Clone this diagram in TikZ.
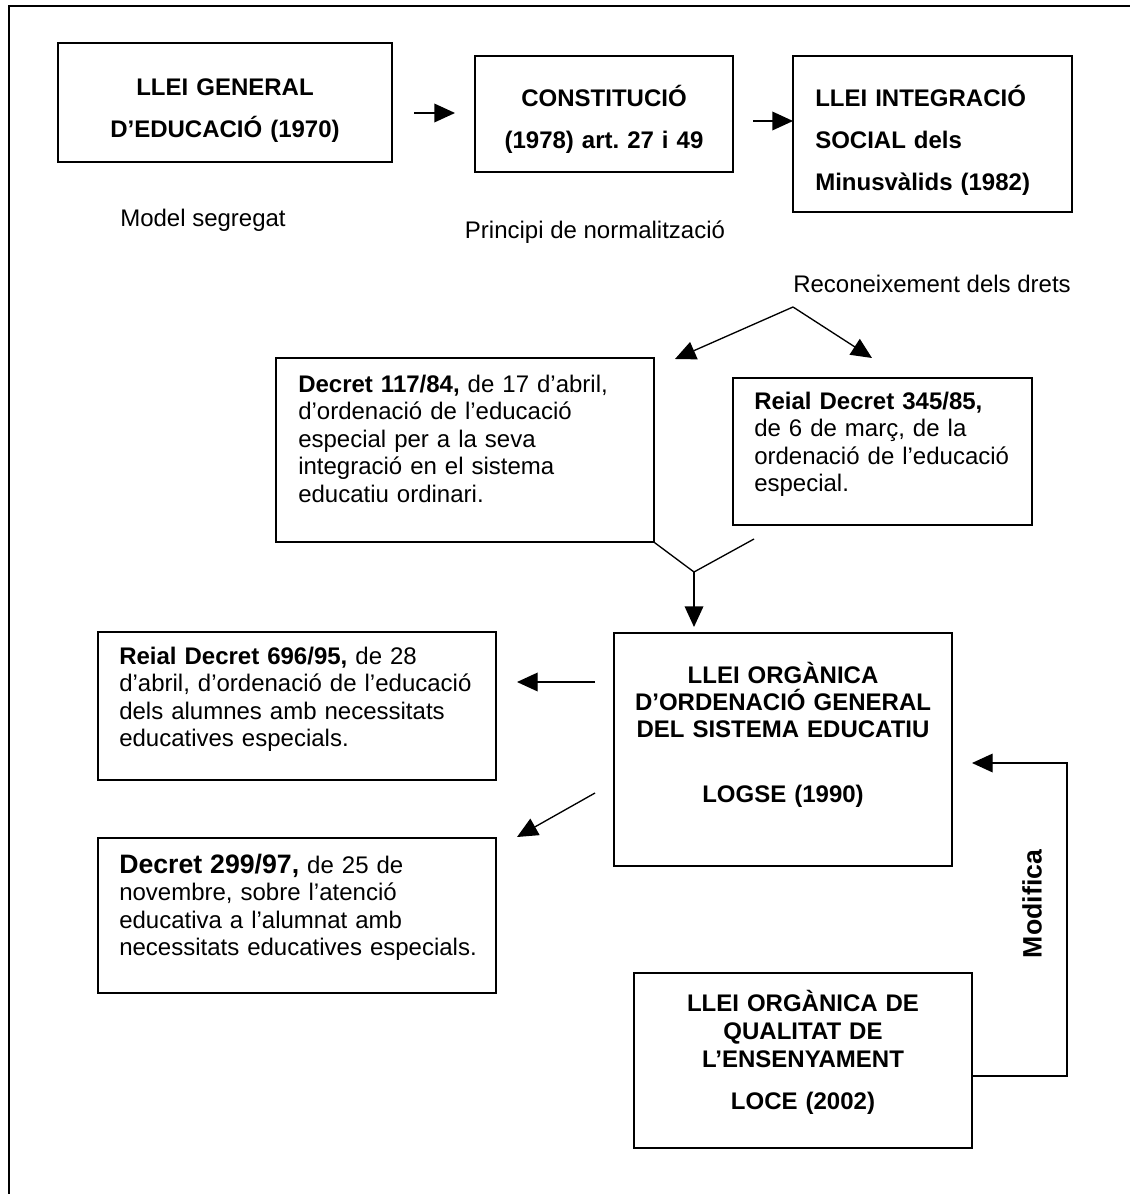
\documentclass[tikz,border=0pt]{standalone}
\usepackage{fontspec}
\setmainfont{Liberation Sans}
\usetikzlibrary{arrows.meta,fit}
\frenchspacing

\begin{document}
\begin{tikzpicture}[x=0.75pt,y=-0.75pt,
  box/.style={draw, line width=1.1pt, inner sep=0pt},
  ttl/.style={font=\fontsize{18}{31}\selectfont\bfseries, inner sep=0pt, text width=#1, align=center, anchor=base},
  ttl/.default=240pt,
  ttlb/.style={font=\fontsize{18}{20.5}\selectfont\bfseries, inner sep=0pt, text width=250pt, align=center, anchor=base},
  body/.style={font=\fontsize{18}{20.7}\selectfont, inner sep=0pt, text width=300pt, align=left, anchor=base west},
  lbl/.style={font=\fontsize{18}{20.7}\selectfont, inner sep=0pt},
  conn/.style={line width=1pt, -{Triangle[length=15.5pt,width=14pt]}},
  plain/.style={line width=1pt}
]
\useasboundingbox (0,0) rectangle (1130,1194);
% outer frame
\draw[line width=1.7pt] (9,1194) -- (9,6) -- (1130,6);

% boxes
\node[box, fit={(58,43) (392,162)}] (b1) {};
\node[box, fit={(475,56) (733,172)}] (b2) {};
\node[box, fit={(793,56) (1072,212)}] (b3) {};
\node[box, fit={(276,358) (654,542)}] (d117) {};
\node[box, fit={(733,378) (1032,525)}] (rd345) {};
\node[box, fit={(614,633) (952,866)}] (logse) {};
\node[box, fit={(98,632) (496,780)}] (rd696) {};
\node[box, fit={(98,838) (496,993)}] (d299) {};
\node[box, fit={(634,973) (972,1148)}] (loce) {};

% box texts
\node[ttl] (b1t) at (225,96) {LLEI GENERAL\\D’EDUCACIÓ (1970)};
\node[ttl] (b2t) at (604,107) {CONSTITUCIÓ\\(1978) art. 27 i 49};
\node[font=\fontsize{18}{31.5}\selectfont\bfseries, inner sep=0pt, text width=250pt, align=left, anchor=base west] (b3t) at (815,107) {LLEI INTEGRACIÓ\\SOCIAL dels\\Minusvàlids (1982)};

\node[body] (d117t) at (298,392) {\textbf{Decret 117/84,} de 17 d’abril,\\d’ordenació de l’educació\\especial per a la seva\\integració en el sistema\\educatiu ordinari.};
\node[body] (rd345t) at (754,409) {\textbf{Reial Decret 345/85,}\\de 6 de març, de la\\ordenació de l’educació\\especial.};
\node[body] (rd696t) at (119,664) {\textbf{Reial Decret 696/95,} de 28\\d’abril, d’ordenació de l’educació\\dels alumnes amb necessitats\\educatives especials.};
\node[body] (d299t) at (119,873) {{\fontsize{20}{20.7}\selectfont\bfseries Decret 299/97,} de 25 de\\novembre, sobre l’atenció\\educativa a l’alumnat amb\\necessitats educatives especials.};

\node[ttlb] (logset) at (783,683) {LLEI ORGÀNICA\\D’ORDENACIÓ GENERAL\\DEL SISTEMA EDUCATIU};
\node[ttlb] (logsey) at (783,802) {LOGSE (1990)};
\node[font=\fontsize{18}{21}\selectfont\bfseries, inner sep=0pt, text width=250pt, align=center, anchor=base] (localt) at (803,1011) {LLEI ORGÀNICA DE\\QUALITAT DE\\L’ENSENYAMENT};
\node[ttlb] (locey) at (803,1109) {LOCE (2002)};

% free labels
\node[lbl, anchor=base] (lmodel) at (203,227) {Model segregat};
\node[lbl, anchor=base] (lprinc) at (595,239) {Principi de normalització};
\node[lbl, anchor=base west] (lrecon) at (793,292) {Reconeixement dels drets};
\node[font=\fontsize{20}{24}\selectfont\bfseries, inner sep=0pt, rotate=90] (lmod) at (1032,904) {Modifica};

% connector end points
\coordinate (a1s) at (414,113);
\coordinate (a1e) at (455,113);
\coordinate (a2s) at (753,121);
\coordinate (a2e) at (793,121);
\coordinate (apex) at (793,307);
\coordinate (fl) at (675,359);
\coordinate (fr) at (872,358);
\coordinate (mr) at (754,539);
\coordinate (junc) at (694,572);
\coordinate (dtip) at (694,627);
\coordinate (l1s) at (595,682);
\coordinate (l1e) at (517,682);
\coordinate (l2s) at (595,793);
\coordinate (l2e) at (517,837);
\coordinate (m1) at (972,1076);
\coordinate (m2) at (1067,1076);
\coordinate (m3) at (1067,763);
\coordinate (m4) at (972,763);

% connectors
\draw[conn] (a1s) -- (a1e);
\draw[conn] (a2s) -- (a2e);
\draw[conn] (apex) -- (fl);
\draw[conn] (apex) -- (fr);
\draw[plain] (d117.south east) -- (junc) -- (mr);
\draw[conn] (junc) -- (dtip);
\draw[conn] (l1s) -- (l1e);
\draw[conn] (l2s) -- (l2e);
\draw[conn] (m1) -- (m2) -- (m3) -- (m4);
\end{tikzpicture}
\end{document}
